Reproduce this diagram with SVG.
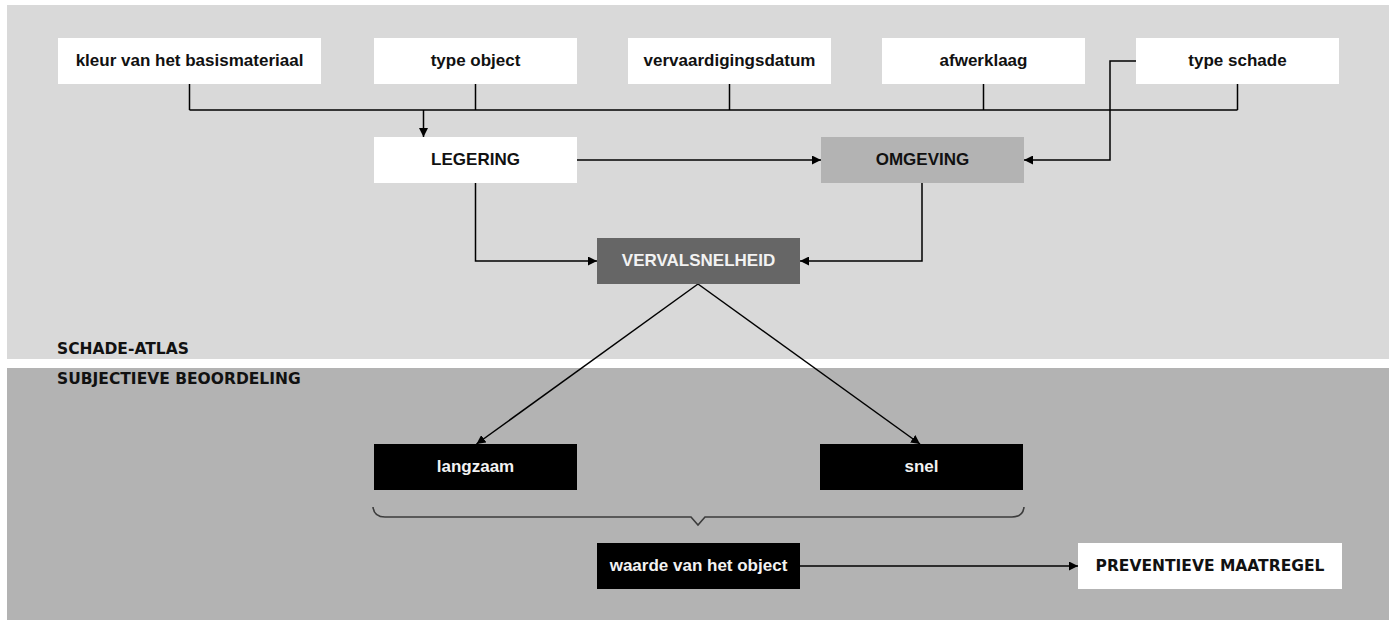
<svg xmlns="http://www.w3.org/2000/svg" width="1394" height="620" viewBox="0 0 1394 620">
  <style>
    .panel-top { fill: #d9d9d9; }
    .panel-bottom { fill: #b3b3b3; }
    .box-white { fill: #ffffff; }
    .box-grey { fill: #b3b3b3; }
    .box-dark { fill: #666666; }
    .box-black { fill: #000000; }
    .label { font-family: "Liberation Sans", Arial, sans-serif; font-weight: bold; font-size: 17px; text-anchor: middle; }
    .dark-text { fill: #111111; }
    .light-text { fill: #f2f2f2; }
    .heading { font-family: "DejaVu Sans", "Liberation Sans", sans-serif; font-weight: bold; font-size: 15.5px; fill: #111111; }
    .line { fill: none; stroke: #000000; stroke-width: 1.5; }
    .brace { fill: none; stroke: #3c3c3c; stroke-width: 1.6; }
  </style>
  <defs>
    <marker id="arrow" markerUnits="userSpaceOnUse" markerWidth="9" markerHeight="9" refX="9" refY="4.5" orient="auto">
      <path d="M0,0 L9,4.5 L0,9 Z" fill="#000000"/>
    </marker>
  </defs>

  <!-- background panels -->
  <rect class="panel-top" x="7" y="5" width="1382" height="354"/>
  <rect class="panel-bottom" x="7" y="368" width="1382" height="252"/>

  <text class="heading" x="57" y="354">SCHADE-ATLAS</text>
  <text class="heading" x="57" y="384">SUBJECTIEVE BEOORDELING</text>

  <!-- connectors -->
  <g id="connectors">
    <path class="line" d="M189.5,84 V110 M475.5,84 V110 M729.5,84 V110 M983.5,84 V110 M1237.5,84 V110 M189.5,110 H1237.5"/>
    <path class="line" d="M423.5,110 V137" marker-end="url(#arrow)"/>
    <path class="line" d="M577,160 H821" marker-end="url(#arrow)"/>
    <path class="line" d="M1136,61 H1110 V160 H1024" marker-end="url(#arrow)"/>
    <path class="line" d="M475.5,183 V261 H597" marker-end="url(#arrow)"/>
    <path class="line" d="M922,183 V261 H800" marker-end="url(#arrow)"/>
    <path class="line" d="M698,284 L476.5,444" marker-end="url(#arrow)"/>
    <path class="line" d="M698,284 L920,444" marker-end="url(#arrow)"/>
    <path class="brace" d="M373,507 Q374,517 385,517 L691,517 L698,525 L705,517 L1012,517 Q1023,517 1024,507"/>
    <path class="line" d="M800,566 H1078" marker-end="url(#arrow)"/>
  </g>

  <!-- input factors -->
  <g id="kleur">
    <rect class="box-white" x="58" y="38" width="263" height="46"/>
    <text class="label dark-text" x="189.5" y="66">kleur van het basismateriaal</text>
  </g>
  <g id="type-object">
    <rect class="box-white" x="374" y="38" width="203" height="46"/>
    <text class="label dark-text" x="475.5" y="66">type object</text>
  </g>
  <g id="vervaardigingsdatum">
    <rect class="box-white" x="628" y="38" width="203" height="46"/>
    <text class="label dark-text" x="729.5" y="66">vervaardigingsdatum</text>
  </g>
  <g id="afwerklaag">
    <rect class="box-white" x="882" y="38" width="203" height="46"/>
    <text class="label dark-text" x="983.5" y="66">afwerklaag</text>
  </g>
  <g id="type-schade">
    <rect class="box-white" x="1136" y="38" width="203" height="46"/>
    <text class="label dark-text" x="1237.5" y="66">type schade</text>
  </g>

  <!-- intermediate nodes -->
  <g id="legering">
    <rect class="box-white" x="374" y="137" width="203" height="46"/>
    <text class="label dark-text" x="475.5" y="165">LEGERING</text>
  </g>
  <g id="omgeving">
    <rect class="box-grey" x="821" y="137" width="203" height="46"/>
    <text class="label dark-text" x="922.5" y="165">OMGEVING</text>
  </g>
  <g id="vervalsnelheid">
    <rect class="box-dark" x="597" y="238" width="203" height="46"/>
    <text class="label light-text" x="698.5" y="265.5">VERVALSNELHEID</text>
  </g>

  <!-- assessment -->
  <g id="langzaam">
    <rect class="box-black" x="374" y="444" width="203" height="46"/>
    <text class="label light-text" x="475.5" y="472">langzaam</text>
  </g>
  <g id="snel">
    <rect class="box-black" x="820" y="444" width="203" height="46"/>
    <text class="label light-text" x="921.5" y="472">snel</text>
  </g>
  <g id="waarde">
    <rect class="box-black" x="597" y="543" width="203" height="46"/>
    <text class="label light-text" x="698.5" y="571">waarde van het object</text>
  </g>
  <g id="preventieve-maatregel">
    <rect class="box-white" x="1078" y="543" width="264" height="46"/>
    <text class="heading" x="1210" y="571" text-anchor="middle">PREVENTIEVE MAATREGEL</text>
  </g>
</svg>
